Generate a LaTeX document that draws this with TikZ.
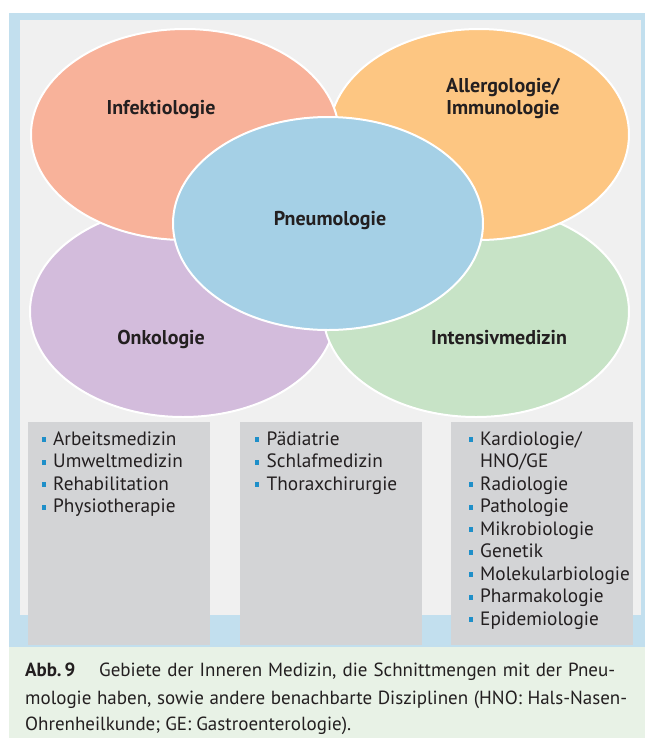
\documentclass[tikz,border=0pt]{standalone}
\usepackage{fontspec}
\setmainfont{PT Sans}
\usetikzlibrary{shapes.geometric}
\definecolor{framec}{HTML}{C2DFEE}
\definecolor{innerc}{HTML}{F0F0F0}
\definecolor{captc}{HTML}{E8F2E6}
\definecolor{infc}{HTML}{F8B29A}
\definecolor{allc}{HTML}{FDC682}
\definecolor{onkc}{HTML}{D3BCDC}
\definecolor{intc}{HTML}{C7E3C6}
\definecolor{pneuc}{HTML}{A5D0E6}
\definecolor{boxc}{HTML}{D3D4D6}
\definecolor{bulc}{HTML}{1E8FC9}
\definecolor{txtc}{HTML}{231F20}
\tikzset{
  ell/.style={ellipse, draw=white, line width=2pt, inner sep=0pt},
  lab/.style={font=\fontsize{20}{22}\selectfont\bfseries, text=txtc, align=center, inner sep=0pt, anchor=base},
  listbox/.style={fill=boxc, anchor=north west, inner sep=0pt, minimum width=182pt, minimum height=223pt},
  item/.style={font=\fontsize{19.3}{22}\selectfont, text=txtc, anchor=base west, inner sep=0pt},
  bul/.style={fill=bulc, draw=none},
  captxt/.style={font=\fontsize{19}{22}\selectfont, text=txtc, anchor=base west, inner sep=0pt}
}
\begin{document}
\begin{tikzpicture}[x=1pt,y=-1pt]
\useasboundingbox (0,0) rectangle (645,740);
\fill[white] (0,0) rectangle (645,740);
\fill[framec] (9,13) rectangle (645,647);
\fill[innerc] (20,20) rectangle (641,615);
\fill[captc] (9,647) rectangle (645,738);
% ellipses
\node[ell, fill=onkc, minimum width=306pt, minimum height=211pt] (onk) at (183,311.5) {};
\node[ell, fill=intc, minimum width=306pt, minimum height=211pt] (int) at (476,311.5) {};
\node[ell, fill=allc, minimum width=300pt, minimum height=211pt] (all) at (479,134.5) {};
\node[ell, fill=infc, minimum width=308pt, minimum height=211pt] (inf) at (185,134.5) {};
\node[ell, fill=pneuc, minimum width=310pt, minimum height=213pt] (pneu) at (328,223.5) {};
% labels
\node[lab] (linf) at (161,114) {Infektiologie};
\node[lab] (lall) at (503,114) {Allergologie/\\Immunologie};
\node[lab] (lpneu) at (330,225) {Pneumologie};
\node[lab] (lonk) at (161,344) {Onkologie};
\node[lab] (lint) at (499,344) {Intensivmedizin};
% boxes
\node[listbox] (b1) at (28,422) {};
\node[listbox] (b2) at (240,422) {};
\node[listbox] (b3) at (451,422) {};
% box 1
\foreach \t [count=\i from 0] in {Arbeitsmedizin,Umweltmedizin,Rehabilitation,Physiotherapie}{
  \fill[bul] (41.5,445-8+22.5*\i) rectangle ++(4.2,5);
  \node[item] at (53,445+22.5*\i) {\t};
}
% box 2
\foreach \t [count=\i from 0] in {Pädiatrie,Schlafmedizin,Thoraxchirurgie}{
  \fill[bul] (254.5,445-8+22.5*\i) rectangle ++(4.2,5);
  \node[item] at (266.5,445+22.5*\i) {\t};
}
% box 3
\foreach \t [count=\i from 0] in {{Kardiologie/},{Radiologie},{Pathologie},{Mikrobiologie},{Genetik},{Molekularbiologie},{Pharmakologie},{Epidemiologie}}{
  \pgfmathsetmacro{\yy}{445+22.5*\i+22.5*min(\i,1)}
  \fill[bul] (468.5,\yy-8) rectangle ++(4.2,5);
  \node[item] at (480,\yy) {\t};
}
\node[item] (hno) at (480,467.5) {HNO/GE};
% caption
\node[captxt, font=\fontsize{19}{22}\selectfont\bfseries] (abb) at (25,676) {Abb.\,9};
\node[captxt] (c1) at (99,676) {\makebox[516pt][s]{Gebiete der Inneren Medizin, die Schnittmengen mit der Pneu-}};
\node[captxt] (c2) at (25,704) {\makebox[602pt][s]{mologie haben, sowie andere benachbarte Disziplinen (HNO: Hals-Nasen-}};
\node[captxt] (c3) at (25,730) {Ohrenheilkunde; GE: Gastroenterologie).};
\end{tikzpicture}
\end{document}
